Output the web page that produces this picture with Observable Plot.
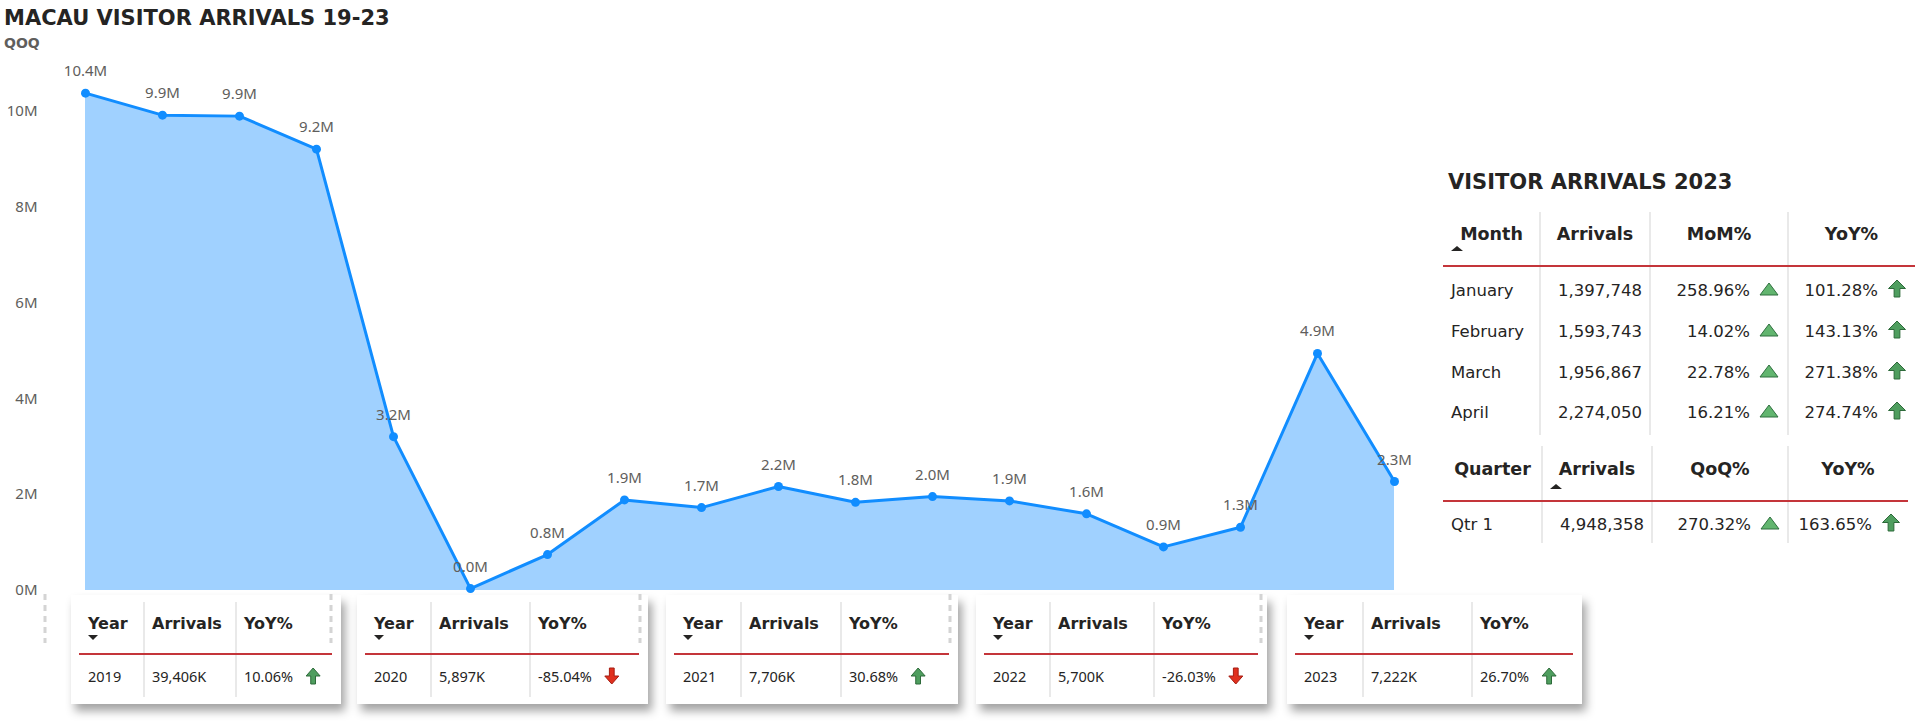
<!DOCTYPE html>
<html><head><meta charset="utf-8">
<script src="https://cdn.jsdelivr.net/npm/d3@7"></script>
<script src="https://cdn.jsdelivr.net/npm/@observablehq/plot@0.6"></script>
<style>
html,body{margin:0;padding:0;background:#fff;width:1920px;height:722px;overflow:hidden;}
#root{position:relative;width:1920px;height:722px;}
#chart{position:absolute;left:0;top:0;}
#overlay{position:absolute;left:0;top:0;}
</style></head>
<body><div id="root"><div id="chart"></div></div>
<script>
// ---------- data ----------
const quarters = ["2019 Q1","2019 Q2","2019 Q3","2019 Q4","2020 Q1","2020 Q2","2020 Q3","2020 Q4",
  "2021 Q1","2021 Q2","2021 Q3","2021 Q4","2022 Q1","2022 Q2","2022 Q3","2022 Q4","2023 Q1","2023 Q2"];
const arrivalsM = [10.38, 9.92, 9.90, 9.21, 3.21, 0.04, 0.75, 1.89, 1.73, 2.17, 1.84, 1.96, 1.87, 1.60, 0.91, 1.32, 4.948, 2.274];
const yTicks = [0, 2, 4, 6, 8, 10];

const months = ["January", "February", "March", "April"];
const monthArrivals = [1397748, 1593743, 1956867, 2274050];
const momPct = [258.96, 14.02, 22.78, 16.21];
const monthYoY = [101.28, 143.13, 271.38, 274.74];

const quarterNames = ["Qtr 1"];
const quarterArrivals = [4948358];
const qoqPct = [270.32];
const quarterYoY = [163.65];

const years = [2019, 2020, 2021, 2022, 2023];
const yearArrivalsK = [39406, 5897, 7706, 5700, 7222];
const yearYoY = [10.06, -85.04, 30.68, -26.03, 26.70];

// ---------- chart ----------
const BLUE = "#118DFF", GREY = "#605E5C", INK = "#252423";
const data = quarters.map((q, i) => ({q, v: arrivalsM[i]}));
const W = 1440, H = 600;
const chart = Plot.plot({
  width: W, height: H,
  marginLeft: 83, marginRight: W - 1396, marginTop: 15, marginBottom: 10,
  style: {fontFamily: "'Noto Sans', sans-serif", background: "transparent", overflow: "visible"},
  x: {type: "point", domain: quarters, padding: 0, axis: null},
  y: {domain: [0, 12], axis: null},
  marks: [
    Plot.axisY({ticks: yTicks, tickSize: 0, tickPadding: 46, tickFormat: d => d + "M", fontSize: 15, fill: GREY, label: null}),
    Plot.areaY(data, {x: "q", y: "v", fill: BLUE, fillOpacity: 0.4}),
    Plot.lineY(data, {x: "q", y: "v", stroke: BLUE, strokeWidth: 3}),
    Plot.dot(data, {x: "q", y: "v", r: 4.5, fill: BLUE}),
    Plot.text(data, {x: "q", y: "v", text: d => d.v.toFixed(1) + "M", lineAnchor: "bottom", dy: -17, fontSize: 15, fill: GREY})
  ]
});
document.getElementById("chart").appendChild(chart);

// ---------- overlay: titles, tables, cards ----------
const DJ = "'DejaVu Sans', sans-serif", NS = "'Noto Sans', sans-serif";
const svg = d3.select("#root").append("svg").attr("id", "overlay")
  .attr("width", 1920).attr("height", 722);
const defs = svg.append("defs");
const flt = defs.append("filter").attr("id", "sh").attr("x", "-10%").attr("y", "-15%").attr("width", "130%").attr("height", "150%");
flt.append("feDropShadow").attr("dx", 4).attr("dy", 7).attr("stdDeviation", 5)
  .attr("flood-color", "#000").attr("flood-opacity", 0.36);

function txt(g, s, x, y, o = {}) {
  return g.append("text").attr("x", x).attr("y", y).text(s)
    .attr("font-family", o.family || DJ).attr("font-size", o.size || 16)
    .attr("font-weight", o.weight || 400).attr("fill", o.color || INK)
    .attr("text-anchor", o.anchor || "start");
}
function arrow(g, cx, top, w, h, up, fill, stroke) {
  const sw = w * 0.34, hh = h * 0.5;
  let pts = [[0, 0], [w / 2, hh], [sw / 2, hh], [sw / 2, h], [-sw / 2, h], [-sw / 2, hh], [-w / 2, hh]];
  if (!up) pts = pts.map(([x, y]) => [x, h - y]);
  g.append("path").attr("d", "M" + pts.map(([x, y]) => (cx + x) + "," + (top + y)).join("L") + "Z")
    .attr("fill", fill).attr("stroke", stroke).attr("stroke-width", 1).attr("stroke-linejoin", "round");
}
function tri(g, cx, top, w, h, down, fill, stroke) {
  const pts = down ? [[-w / 2, 0], [w / 2, 0], [0, h]] : [[0, 0], [w / 2, h], [-w / 2, h]];
  const p = g.append("path").attr("d", "M" + pts.map(([x, y]) => (cx + x) + "," + (top + y)).join("L") + "Z").attr("fill", fill);
  if (stroke) p.attr("stroke", stroke).attr("stroke-width", 1);
}
const pct = v => v.toFixed(2) + "%";
const GUP = ["#4f9e5f", "#2d6a3a"], GTRI = ["#62b56f", "#2f6f3f"], RDN = ["#e0301e", "#a51d12"];
const RED = "#c4353a", SEP = "#e2e2e2";

// titles
txt(svg, "MACAU VISITOR ARRIVALS 19-23", 4, 25, {size: 21, weight: 700});
txt(svg, "QOQ", 4, 48, {size: 14, weight: 700, color: GREY});
txt(svg, "VISITOR ARRIVALS 2023", 1448, 189, {size: 21, weight: 700});

// right table builder
function table(cfg) {
  const g = svg.append("g");
  const b = cfg.bounds;
  for (let i = 1; i < 4; i++)
    g.append("line").attr("x1", b[i]).attr("x2", b[i]).attr("y1", cfg.sepTop).attr("y2", cfg.sepBottom)
      .attr("stroke", SEP).attr("stroke-width", 1.5);
  cfg.headers.forEach((h, i) => txt(g, h, (b[i] + b[i + 1]) / 2, cfg.headY, {size: 17.5, weight: 700, anchor: "middle"}));
  tri(g, cfg.caretX, cfg.caretY, 12, 5, false, INK);
  g.append("line").attr("x1", b[0]).attr("x2", b[4]).attr("y1", cfg.redY).attr("y2", cfg.redY)
    .attr("stroke", RED).attr("stroke-width", 2);
  cfg.rows.forEach((r, k) => {
    const y = cfg.rowY[k];
    txt(g, r[0], b[0] + 8, y, {size: 16.5});
    txt(g, d3.format(",")(r[1]), b[2] - 8, y, {size: 16.5, anchor: "end"});
    txt(g, pct(r[2]), cfg.c3Right, y, {size: 16.5, anchor: "end"});
    tri(g, cfg.c3Right + 19, y - 13, 18, 12, false, GTRI[0], GTRI[1]);
    txt(g, pct(r[3]), cfg.c4Right, y, {size: 16.5, anchor: "end"});
    arrow(g, cfg.c4Right + 19, y - 16, 17, 17, true, GUP[0], GUP[1]);
  });
}
table({
  bounds: [1443, 1540, 1650, 1788, 1915], sepTop: 212, sepBottom: 435,
  headers: ["Month", "Arrivals", "MoM%", "YoY%"], headY: 240, caretX: 1457, caretY: 246,
  redY: 266, rowY: [296, 337, 378, 418], c3Right: 1750, c4Right: 1878,
  rows: months.map((m, i) => [m, monthArrivals[i], momPct[i], monthYoY[i]])
});
table({
  bounds: [1443, 1542, 1652, 1788, 1908], sepTop: 446, sepBottom: 543,
  headers: ["Quarter", "Arrivals", "QoQ%", "YoY%"], headY: 475, caretX: 1556, caretY: 484,
  redY: 501, rowY: [530], c3Right: 1751, c4Right: 1872,
  rows: quarterNames.map((m, i) => [m, quarterArrivals[i], qoqPct[i], quarterYoY[i]])
});

// year cards
const cardLayout = [
  {x: 71, w: 270, s1: 73, s2: 165},
  {x: 357, w: 291, s1: 74, s2: 173},
  {x: 666, w: 292, s1: 75, s2: 175},
  {x: 976, w: 291, s1: 74, s2: 178},
  {x: 1287, w: 295, s1: 76, s2: 185}
];
years.forEach((yr, i) => {
  const L = cardLayout[i];
  const g = svg.append("g");
  g.append("line").attr("x1", L.x - 26).attr("x2", L.x - 26).attr("y1", 594).attr("y2", 643)
    .attr("stroke", "#d4d4d4").attr("stroke-width", 3).attr("stroke-dasharray", "6 5");
  g.append("rect").attr("x", L.x).attr("y", 595).attr("width", L.w).attr("height", 109)
    .attr("fill", "#fff").attr("filter", "url(#sh)");
  [L.s1, L.s2].forEach(s => g.append("line").attr("x1", L.x + s).attr("x2", L.x + s)
    .attr("y1", 602).attr("y2", 697).attr("stroke", SEP).attr("stroke-width", 1.5));
  txt(g, "Year", L.x + 17, 629, {size: 16, weight: 700});
  txt(g, "Arrivals", L.x + L.s1 + 8, 629, {size: 16, weight: 700});
  txt(g, "YoY%", L.x + L.s2 + 8, 629, {size: 16, weight: 700});
  tri(g, L.x + 22, 635, 10, 5, true, INK);
  g.append("line").attr("x1", L.x + 8).attr("x2", L.x + L.w - 9).attr("y1", 654).attr("y2", 654)
    .attr("stroke", RED).attr("stroke-width", 2);
  txt(g, String(yr), L.x + 17, 682, {family: NS, size: 14.5});
  txt(g, d3.format(",")(yearArrivalsK[i]) + "K", L.x + L.s1 + 8, 682, {family: NS, size: 14.5});
  const t = txt(g, pct(yearYoY[i]), L.x + L.s2 + 8, 682, {family: NS, size: 14.5});
  const end = L.x + L.s2 + 8 + t.node().getComputedTextLength();
  const up = yearYoY[i] >= 0;
  arrow(g, end + 20, 668, 14, 16, up, up ? GUP[0] : RDN[0], up ? GUP[1] : RDN[1]);
});
</script>
</body></html>
